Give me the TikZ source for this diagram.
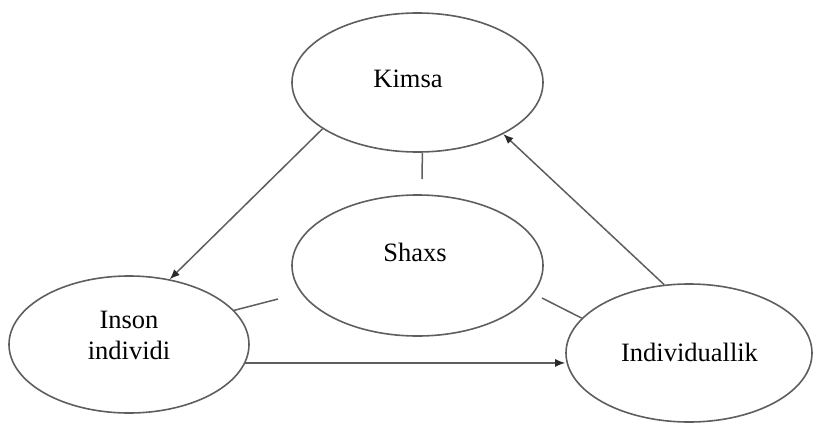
\documentclass[tikz,border=0pt]{standalone}
\usepackage{fontspec}
\setmainfont{Liberation Serif}
\usetikzlibrary{shapes.geometric,arrows.meta}
\definecolor{edgegray}{HTML}{5E5E5E}
\definecolor{tipgray}{HTML}{2A2A2A}
\begin{document}
\begin{tikzpicture}[x=1pt,y=-1pt,
  bubble/.style={ellipse,draw=edgegray,line width=1.6pt,inner sep=0pt},
  caption/.style={font=\fontsize{26.5}{31}\selectfont,text=black,inner sep=0pt},
  link/.style={draw=edgegray,line width=1.5pt},
  flow/.style={link,-{Latex[length=10pt,width=8pt,color=tipgray]}}]
  \useasboundingbox (0,0) rectangle (813,423);

  % the four ellipses
  \node[bubble,minimum width=251pt,minimum height=139pt] (kimsa) at (417.5,82.5) {};
  \node[bubble,minimum width=251pt,minimum height=141pt] (shaxs) at (417.5,265.5) {};
  \node[bubble,minimum width=240pt,minimum height=137pt] (inson) at (129,344.5) {};
  \node[bubble,minimum width=246pt,minimum height=138pt] (indiv) at (689,353) {};

  % their labels
  \node[caption,anchor=base] (tkimsa) at (408,87) {Kimsa};
  \node[caption,anchor=base] (tshaxs) at (415,261) {Shaxs};
  \node[caption,align=center] (tinson) at (129,335) {Inson\\individi};
  \node[caption,anchor=base] (tindiv) at (689.5,361.5) {Individuallik};

  % free ends of the short ties towards the centre
  \coordinate (tieTop) at (422,179);
  \coordinate (tieLeft) at (278,299);
  \coordinate (tieRight) at (542,298);

  % arrows around the triangle
  \draw[flow] (kimsa.206.7) -- (inson.58.3);
  \draw[flow] (indiv.110.6) -- (kimsa.-31.9);
  \draw[flow] (inson.-9) -- (inson.-9 -| indiv.west);

  % short ties
  \draw[link] (kimsa.-86.3) -- (tieTop);
  \draw[link] (inson.18.3) -- (tieLeft);
  \draw[link] (indiv.162.4) -- (tieRight);
\end{tikzpicture}
\end{document}
